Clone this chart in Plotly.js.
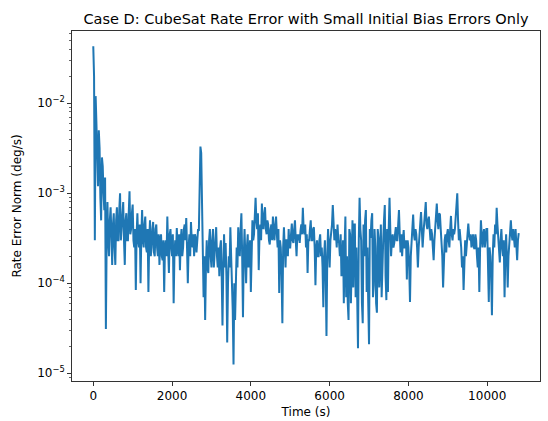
<!DOCTYPE html>
<html>
<head>
<meta charset="utf-8">
<script src="https://cdn.plot.ly/plotly-3.0.1.min.js"></script>
<style>html,body{margin:0;padding:0;background:#fff;}#chart{width:548px;height:421px;}</style>
</head>
<body>
<div id="chart"></div>
<script>
// Sample interval of the recorded series (s)
const sampleStep = 20;

// Rate error norm (deg/s), one value per sample
const rateErrorNorm = [
  4.3e-2, 2.0e-2, 3.0e-4, 1.2e-2, 6.0e-3, 2.0e-3, 1.2e-3, 5.0e-3, 3.2e-3, 9.0e-4, 5.0e-4, 2.5e-3, 2.0e-3, 1.0e-3, 6.5e-4, 1.5e-3, 3.1e-5, 3.0e-4, 8.0e-4, 3.0e-4,
  2.0e-4, 5.0e-4, 7.0e-4, 3.5e-4, 1.6e-4, 4.5e-4, 6.0e-4, 2.5e-4, 1.6e-4, 5.0e-4, 7.0e-4, 3.0e-4, 3.0e-4, 6.5e-4, 1.0e-3, 3.0e-4, 4.0e-4, 6.0e-4, 8.0e-4, 3.0e-4,
  1.6e-4, 5.0e-4, 6.0e-4, 3.0e-4, 3.0e-4, 6.0e-4, 1.05e-3, 3.5e-4, 4.0e-4, 6.0e-4, 7.5e-4, 3.0e-4, 2.5e-4, 4.0e-4, 8.4e-5, 3.5e-4, 6.0e-4, 3.0e-4, 2.5e-4, 4.5e-4,
  1.0e-4, 3.5e-4, 6.5e-4, 3.0e-4, 2.5e-4, 4.5e-4, 5.5e-4, 2.5e-4, 2.2e-4, 4.0e-4, 8.0e-5, 3.0e-4, 5.0e-4, 2.0e-4, 2.5e-4, 4.0e-4, 4.8e-4, 2.2e-4, 2.0e-4, 4.0e-4,
  4.5e-4, 2.5e-4, 2.0e-4, 3.5e-4, 1.6e-4, 3.0e-4, 3.5e-4, 2.0e-4, 1.8e-4, 3.0e-4, 8.0e-5, 2.5e-4, 3.0e-4, 2.0e-4, 5.5e-4, 2.5e-4, 1.3e-4, 3.5e-4, 4.0e-4, 2.5e-4,
  2.0e-4, 3.5e-4, 6.0e-5, 2.0e-4, 3.0e-4, 2.0e-4, 4.1e-4, 2.5e-4, 2.0e-4, 3.5e-4, 1.4e-4, 3.0e-4, 4.0e-4, 2.0e-4, 2.5e-4, 4.0e-4, 4.5e-4, 3.0e-4, 5.3e-4, 2.5e-4,
  1.0e-4, 2.5e-4, 3.5e-4, 2.0e-4, 4.8e-4, 3.0e-4, 2.5e-4, 3.5e-4, 2.0e-4, 3.5e-4, 3.2e-4, 2.2e-4, 2.8e-4, 4.0e-4, 3.8e-4, 1.5e-3, 3.3e-3, 2.8e-3, 1.0e-3, 2.0e-4,
  7.0e-5, 2.0e-4, 3.9e-5, 1.5e-4, 3.0e-4, 1.5e-4, 1.3e-4, 3.0e-4, 4.0e-4, 2.0e-4, 1.5e-4, 3.0e-4, 4.0e-4, 1.5e-4, 2.0e-4, 3.0e-4, 4.2e-4, 2.0e-4, 1.5e-4, 2.5e-4,
  1.2e-4, 2.5e-4, 3.0e-4, 1.2e-4, 3.4e-5, 1.5e-4, 3.5e-4, 1.5e-4, 2.8e-4, 1.2e-4, 2.2e-5, 1.0e-4, 2.0e-4, 1.5e-4, 4.2e-4, 2.0e-4, 1.0e-4, 5.0e-5, 1.25e-5, 1.0e-4,
  3.9e-5, 1.5e-4, 2.5e-4, 1.5e-4, 4.2e-4, 2.5e-4, 2.0e-4, 4.0e-4, 6.0e-4, 2.0e-4, 4.2e-5, 2.0e-4, 4.0e-4, 2.0e-4, 1.0e-4, 2.5e-4, 3.5e-4, 1.5e-4, 2.0e-4, 3.0e-4,
  8.0e-5, 3.0e-4, 5.0e-4, 3.0e-4, 3.5e-4, 5.5e-4, 8.9e-4, 5.0e-4, 4.0e-4, 6.0e-4, 1.4e-4, 3.5e-4, 4.5e-4, 3.0e-4, 7.7e-4, 4.5e-4, 4.0e-4, 6.0e-4, 7.0e-4, 4.0e-4,
  3.5e-4, 5.0e-4, 4.5e-4, 3.0e-4, 2.7e-4, 4.0e-4, 4.5e-4, 3.0e-4, 5.5e-4, 3.5e-4, 3.0e-4, 4.5e-4, 5.5e-4, 3.5e-4, 2.5e-4, 4.0e-4, 7.8e-5, 3.0e-4, 2.5e-4, 1.2e-4,
  3.6e-5, 2.5e-4, 4.2e-4, 2.5e-4, 1.5e-4, 3.0e-4, 3.0e-4, 2.0e-4, 4.0e-4, 2.5e-4, 2.5e-4, 3.5e-4, 4.6e-4, 3.0e-4, 2.8e-4, 4.0e-4, 5.0e-4, 3.0e-4, 2.0e-4, 3.5e-4,
  3.0e-4, 3.5e-4, 2.8e-4, 3.8e-4, 4.5e-4, 3.5e-4, 6.9e-4, 4.0e-4, 3.5e-4, 4.5e-4, 2.5e-4, 3.5e-4, 1.3e-4, 3.0e-4, 3.0e-4, 4.0e-4, 5.0e-4, 3.0e-4, 3.0e-4, 4.0e-4,
  4.2e-4, 2.5e-4, 9.5e-5, 2.5e-4, 3.0e-4, 2.0e-4, 2.0e-4, 3.0e-4, 3.5e-4, 2.0e-4, 2.5e-4, 1.5e-4, 5.4e-5, 2.0e-4, 3.0e-4, 1.2e-4, 2.6e-5, 2.0e-4, 4.0e-4, 2.5e-4,
  1.5e-4, 3.0e-4, 3.5e-4, 4.5e-4, 7.4e-4, 3.5e-4, 3.0e-4, 4.0e-4, 3.5e-4, 2.5e-4, 4.5e-4, 3.0e-4, 2.8e-4, 2.0e-4, 3.5e-4, 1.2e-4, 1.5e-4, 3.0e-4, 6.0e-5, 2.5e-4,
  5.5e-4, 7.0e-5, 2.0e-4, 6.0e-5, 3.9e-5, 4.0e-4, 3.5e-4, 6.0e-5, 2.5e-4, 5.0e-4, 9.0e-5, 4.5e-4, 4.5e-4, 7.0e-5, 2.5e-4, 6.0e-5, 1.9e-5, 3.0e-4, 8.9e-4, 4.0e-4,
  3.0e-4, 6.0e-5, 3.6e-5, 4.5e-4, 2.0e-4, 5.0e-4, 6.5e-4, 8.0e-5, 2.5e-4, 6.0e-5, 2.1e-5, 4.0e-4, 3.2e-4, 5.0e-4, 6.0e-4, 7.0e-5, 9.5e-5, 4.0e-4, 2.5e-4, 6.0e-5,
  4.7e-5, 4.0e-4, 3.2e-4, 9.0e-5, 2.5e-4, 4.5e-4, 7.0e-5, 2.0e-4, 3.0e-4, 5.0e-4, 7.4e-4, 1.2e-4, 6.5e-5, 4.0e-4, 8.0e-5, 4.0e-4, 8.9e-4, 4.0e-4, 2.0e-4, 3.0e-4,
  3.5e-4, 2.5e-4, 2.8e-4, 3.5e-4, 4.2e-4, 3.0e-4, 3.0e-4, 4.5e-4, 6.5e-4, 3.5e-4, 2.2e-4, 3.5e-4, 2.0e-4, 3.0e-4, 3.9e-4, 2.5e-4, 2.5e-4, 3.0e-4, 1.1e-4, 3.0e-4,
  2.5e-4, 1.5e-4, 6.2e-5, 2.0e-4, 3.0e-4, 4.0e-4, 5.8e-4, 3.5e-4, 3.0e-4, 4.0e-4, 3.5e-4, 2.5e-4, 1.5e-4, 2.5e-4, 3.5e-4, 4.5e-4, 6.2e-4, 4.0e-4, 2.5e-4, 3.5e-4,
  4.5e-4, 6.0e-4, 8.0e-4, 4.5e-4, 4.0e-4, 5.0e-4, 5.5e-4, 4.0e-4, 3.0e-4, 4.0e-4, 3.5e-4, 2.5e-4, 1.8e-4, 3.0e-4, 4.5e-4, 5.5e-4, 7.7e-4, 5.0e-4, 4.0e-4, 6.0e-4,
  5.8e-4, 4.0e-4, 3.0e-4, 2.0e-4, 9.0e-5, 2.0e-4, 3.0e-4, 3.5e-4, 2.2e-4, 3.5e-4, 4.0e-4, 3.0e-4, 2.5e-4, 4.0e-4, 5.6e-4, 3.5e-4, 3.0e-4, 4.0e-4, 3.5e-4, 4.0e-4,
  5.2e-4, 6.5e-4, 1.0e-3, 5.0e-4, 3.0e-4, 4.0e-4, 3.4e-4, 2.5e-4, 1.5e-4, 2.0e-4, 8.4e-5, 2.0e-4, 3.0e-4, 2.0e-4, 2.5e-4, 3.5e-4, 4.6e-4, 3.5e-4, 3.0e-4, 3.5e-4,
  2.5e-4, 3.0e-4, 3.5e-4, 2.5e-4, 2.4e-4, 3.5e-4, 3.0e-4, 2.0e-4, 1.5e-4, 2.5e-4, 8.0e-5, 2.5e-4, 5.0e-4, 3.5e-4, 2.5e-4, 3.5e-4, 4.0e-4, 2.5e-4, 3.0e-4, 4.0e-4,
  4.0e-4, 2.0e-4, 6.2e-5, 2.5e-4, 2.0e-4, 1.2e-4, 4.4e-5, 2.0e-4, 3.5e-4, 2.5e-4, 4.5e-4, 3.5e-4, 6.9e-4, 4.5e-4, 3.5e-4, 2.5e-4, 1.7e-4, 3.0e-4, 4.0e-4, 2.5e-4,
  2.0e-4, 3.0e-4, 7.0e-5, 2.0e-4, 3.5e-4, 2.0e-4, 9.0e-5, 2.0e-4, 3.0e-4, 4.0e-4, 5.0e-4, 3.5e-4, 3.0e-4, 4.0e-4, 3.0e-4, 2.5e-4, 4.0e-4, 2.5e-4, 1.8e-4, 3.0e-4,
  3.6e-4
];

// Sample times (s)
const timeSec = rateErrorNorm.map((_, i) => i * sampleStep);

// Axis ticks
const xTickVals = [0, 2000, 4000, 6000, 8000, 10000];
const yTickVals = [1e-5, 1e-4, 1e-3, 1e-2];
const yTickText = ['10<sup>−5</sup>', '10<sup>−4</sup>', '10<sup>−3</sup>', '10<sup>−2</sup>'];
const yMinorVals = [];
for (let e = -6; e <= -2; e++) {
  for (let m = 2; m <= 9; m++) yMinorVals.push(m * Math.pow(10, e));
}

const font = 'DejaVu Sans, sans-serif';

const trace = {
  x: timeSec,
  y: rateErrorNorm,
  type: 'scatter',
  mode: 'lines',
  line: {color: '#1f77b4', width: 2.0},
  hoverinfo: 'x+y'
};

const layout = {
  width: 548,
  height: 421,
  margin: {l: 72, r: 8, t: 31, b: 40, pad: 0},
  paper_bgcolor: '#ffffff',
  plot_bgcolor: '#ffffff',
  showlegend: false,
  font: {family: font, size: 12, color: '#000'},
  title: {
    text: 'Case D: CubeSat Rate Error with Small Initial Bias Errors Only',
    font: {family: font, size: 14.5, color: '#000'},
    x: 0.5, xref: 'paper', xanchor: 'center',
    y: 0.955, yref: 'container', yanchor: 'middle'
  },
  xaxis: {
    range: [-540, 11340],
    tickvals: xTickVals,
    tickformat: 'd',
    ticks: 'outside', ticklen: 4, tickwidth: 0.8, tickcolor: '#000',
    showline: true, linecolor: '#000', linewidth: 0.8, mirror: true,
    showgrid: false, zeroline: false,
    tickfont: {family: font, size: 12, color: '#000'},
    title: {text: 'Time (s)', font: {family: font, size: 12, color: '#000'}, standoff: 5},
    automargin: false
  },
  yaxis: {
    type: 'log',
    range: [-5.086, -1.197],
    tickvals: yTickVals,
    ticktext: yTickText,
    ticks: 'outside', ticklen: 4, tickwidth: 0.8, tickcolor: '#000',
    minor: {tickvals: yMinorVals, ticks: 'outside', ticklen: 2, tickwidth: 0.6, tickcolor: '#000', showgrid: false},
    showline: true, linecolor: '#000', linewidth: 0.8, mirror: true,
    showgrid: false, zeroline: false,
    tickfont: {family: font, size: 12, color: '#000'},
    title: {text: 'Rate Error Norm (deg/s)', font: {family: font, size: 12, color: '#000'}, standoff: 12},
    automargin: false
  }
};

Plotly.newPlot('chart', [trace], layout, {displayModeBar: false, staticPlot: true});
</script>
</body>
</html>
